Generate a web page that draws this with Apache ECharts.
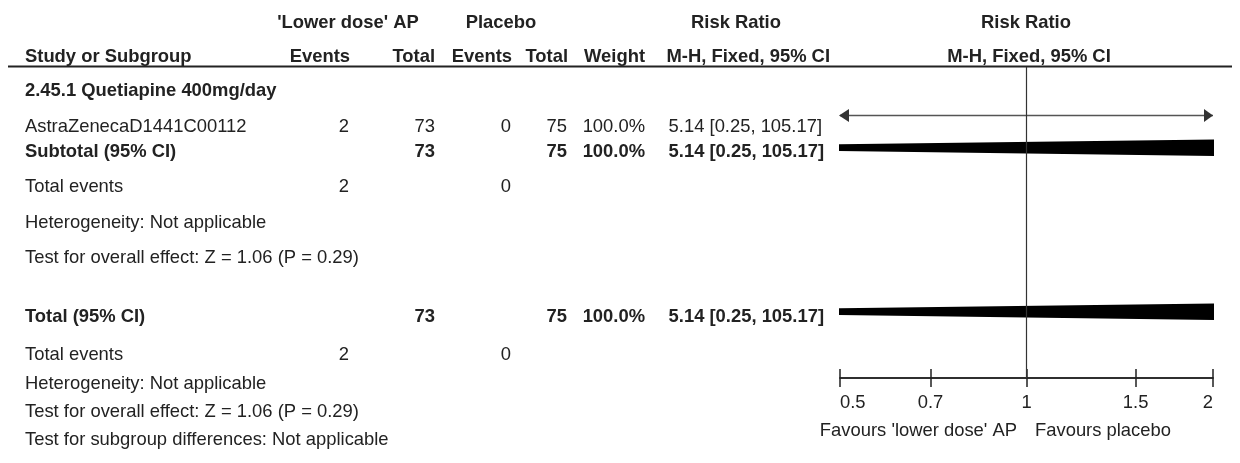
<!DOCTYPE html>
<html>
<head>
<meta charset="utf-8">
<script src="https://cdn.jsdelivr.net/npm/echarts@6/dist/echarts.min.js"></script>
<style>
  html, body { margin: 0; padding: 0; background: #fff; }
  #chart { width: 1240px; height: 463px; }
</style>
</head>
<body>
<div id="chart"></div>
<script>
// study level data
const studyNames = ['AstraZenecaD1441C00112'];
const apEvents = [2];
const apTotal = [73];
const placeboEvents = [0];
const placeboTotal = [75];
const studyWeight = ['100.0%'];
const studyRR = [5.14];
const studyLow = [0.25];
const studyHigh = [105.17];

// pooled rows (subtotal, total)
const pooledNames = ['Subtotal (95% CI)', 'Total (95% CI)'];
const pooledApTotal = [73, 73];
const pooledPlaceboTotal = [75, 75];
const pooledWeight = ['100.0%', '100.0%'];
const pooledRR = [5.14, 5.14];
const pooledLow = [0.25, 0.25];
const pooledHigh = [105.17, 105.17];
const totalEventsAp = [2, 2];
const totalEventsPlacebo = [0, 0];
const heterogeneity = ['Heterogeneity: Not applicable', 'Heterogeneity: Not applicable'];
const overallEffect = ['Test for overall effect: Z = 1.06 (P = 0.29)', 'Test for overall effect: Z = 1.06 (P = 0.29)'];
const subgroupTest = 'Test for subgroup differences: Not applicable';
const groupTitle = '2.45.1 Quetiapine 400mg/day';

const tickValues = [0.5, 0.7, 1, 1.5, 2];
const tickLabels = ['0.5', '0.7', '1', '1.5', '2'];

// layout: row positions (page px) and column edges
const rowY = {
  head1: 23, head2: 57, rule: 66.5, group: 90.5,
  study: [126.5], studyMark: [115.5],
  pooled: [151.5, 316.5], pooledMark: [147.7, 311.7],
  events: [186.5, 354.5], het: [223, 383.5], effect: [258, 411.5], subgroup: 439.5
};
const col = { name: 25, ev1: 350, tot1: 435, ev2: 511, tot2: 567, weight: 645, ci: 824 };
const FONT = '"Liberation Sans", Arial, Helvetica, sans-serif';
const SIZE = '18.4px ';
const TEXT = '#222';

const fmtCI = (m, l, h) => `${m.toFixed(2)} [${l.toFixed(2)}, ${h.toFixed(2)}]`;

function txt(x, y, text, align, bold) {
  return {
    type: 'text', x: x, y: y, silent: true,
    style: {
      text: String(text), align: align || 'left', verticalAlign: 'middle',
      font: (bold ? 'bold ' : '') + SIZE + FONT, fill: TEXT
    }
  };
}

const graphics = [];
// headers
graphics.push(txt(348, rowY.head1, "'Lower dose' AP", 'center', true));
graphics.push(txt(501, rowY.head1, 'Placebo', 'center', true));
graphics.push(txt(736, rowY.head1, 'Risk Ratio', 'center', true));
graphics.push(txt(1026, rowY.head1, 'Risk Ratio', 'center', true));
graphics.push(txt(col.name, rowY.head2, 'Study or Subgroup', 'left', true));
graphics.push(txt(col.ev1, rowY.head2, 'Events', 'right', true));
graphics.push(txt(col.tot1, rowY.head2, 'Total', 'right', true));
graphics.push(txt(col.ev2 + 1, rowY.head2, 'Events', 'right', true));
graphics.push(txt(col.tot2 + 1, rowY.head2, 'Total', 'right', true));
graphics.push(txt(col.weight, rowY.head2, 'Weight', 'right', true));
graphics.push(txt(830, rowY.head2, 'M-H, Fixed, 95% CI', 'right', true));
graphics.push(txt(1029, rowY.head2, 'M-H, Fixed, 95% CI', 'center', true));
graphics.push({
  type: 'line', silent: true,
  shape: { x1: 8, y1: rowY.rule, x2: 1232, y2: rowY.rule },
  style: { stroke: '#222', lineWidth: 2 }
});

graphics.push(txt(col.name, rowY.group, groupTitle, 'left', true));

// study rows
studyNames.forEach((n, i) => {
  const y = rowY.study[i];
  graphics.push(txt(col.name, y, n));
  graphics.push(txt(col.ev1 - 1, y, apEvents[i], 'right'));
  graphics.push(txt(col.tot1, y, apTotal[i], 'right'));
  graphics.push(txt(col.ev2, y, placeboEvents[i], 'right'));
  graphics.push(txt(col.tot2, y, placeboTotal[i], 'right'));
  graphics.push(txt(col.weight, y, studyWeight[i], 'right'));
  graphics.push(txt(col.ci - 2, y, fmtCI(studyRR[i], studyLow[i], studyHigh[i]), 'right'));
});

// pooled rows + footers
pooledNames.forEach((n, i) => {
  const y = rowY.pooled[i];
  graphics.push(txt(col.name, y, n, 'left', true));
  graphics.push(txt(col.tot1, y, pooledApTotal[i], 'right', true));
  graphics.push(txt(col.tot2, y, pooledPlaceboTotal[i], 'right', true));
  graphics.push(txt(col.weight, y, pooledWeight[i], 'right', true));
  graphics.push(txt(col.ci, y, fmtCI(pooledRR[i], pooledLow[i], pooledHigh[i]), 'right', true));

  graphics.push(txt(col.name, rowY.events[i], 'Total events'));
  graphics.push(txt(col.ev1 - 1, rowY.events[i], totalEventsAp[i], 'right'));
  graphics.push(txt(col.ev2, rowY.events[i], totalEventsPlacebo[i], 'right'));
  graphics.push(txt(col.name, rowY.het[i], heterogeneity[i]));
  graphics.push(txt(col.name, rowY.effect[i], overallEffect[i]));
});
graphics.push(txt(col.name, rowY.subgroup, subgroupTest));

// favours labels under the axis
graphics.push(txt(1017, 431, "Favours 'lower dose' AP", 'right'));
graphics.push(txt(1035, 431, 'Favours placebo', 'left'));

// clip a polygon between two vertical lines
function clipX(points, xMin, xMax) {
  let out = points;
  [[xMin, 1], [xMax, -1]].forEach(([edge, dir]) => {
    const src = out;
    out = [];
    for (let i = 0; i < src.length; i++) {
      const a = src[i], b = src[(i + 1) % src.length];
      const inA = (a[0] - edge) * dir >= 0;
      const inB = (b[0] - edge) * dir >= 0;
      if (inA) out.push(a);
      if (inA !== inB) {
        const t = (edge - a[0]) / (b[0] - a[0]);
        out.push([edge, a[1] + t * (b[1] - a[1])]);
      }
    }
  });
  return out;
}

const xMin = tickValues[0];
const xMax = tickValues[tickValues.length - 1];

function renderStudy(params, api) {
  const low = api.value(0), high = api.value(1), est = api.value(2), y = api.value(3);
  const left = api.coord([Math.max(low, xMin), y]);
  const right = api.coord([Math.min(high, xMax), y]);
  const children = [{
    type: 'line',
    shape: { x1: left[0], y1: left[1], x2: right[0], y2: right[1] },
    style: { stroke: '#555', lineWidth: 1.5 }
  }];
  const head = 9, half = 6.5;
  if (low < xMin) {
    children.push({ type: 'polygon', shape: { points: [[left[0] - 1, left[1]], [left[0] + head, left[1] - half], [left[0] + head, left[1] + half]] }, style: { fill: '#333' } });
  }
  if (high > xMax) {
    children.push({ type: 'polygon', shape: { points: [[right[0], right[1]], [right[0] - head, right[1] - half], [right[0] - head, right[1] + half]] }, style: { fill: '#333' } });
  }
  if (est >= xMin && est <= xMax) {
    const c = api.coord([est, y]);
    children.push({ type: 'rect', shape: { x: c[0] - 5, y: c[1] - 5, width: 10, height: 10 }, style: { fill: '#000' } });
  }
  return { type: 'group', children: children };
}

function renderDiamond(params, api) {
  const low = api.value(0), est = api.value(1), high = api.value(2), y = api.value(3);
  const h = 10.5;
  const pl = api.coord([low, y]), pe = api.coord([est, y]), ph = api.coord([high, y]);
  const cs = params.coordSys;
  const pts = clipX([[pl[0], pl[1]], [pe[0], pe[1] - h], [ph[0], ph[1]], [pe[0], pe[1] + h]], cs.x, cs.x + cs.width);
  return {
    type: 'polygon',
    shape: { points: pts },
    style: { fill: '#000', stroke: '#000', lineWidth: 2, lineJoin: 'miter' }
  };
}

const studyData = studyNames.map((n, i) => [studyLow[i], studyHigh[i], studyRR[i], rowY.studyMark[i]]);
const pooledData = pooledNames.map((n, i) => [pooledLow[i], pooledRR[i], pooledHigh[i], rowY.pooledMark[i]]);

const chart = echarts.init(document.getElementById('chart'));

chart.setOption({
  animation: false,
  backgroundColor: '#fff',
  textStyle: { fontFamily: FONT },
  grid: { left: 840, right: 27, top: 67, bottom: 85 },
  xAxis: [
    {
      type: 'log', min: xMin, max: xMax, position: 'bottom',
      axisLine: { show: true, lineStyle: { color: '#222', width: 1.5 } },
      axisTick: { show: true, inside: false, length: 9, customValues: tickValues, lineStyle: { color: '#222', width: 1.5 } },
      axisLabel: {
        show: true, customValues: tickValues, margin: 16,
        color: TEXT, fontSize: 18.4, fontFamily: FONT,
        alignMinLabel: 'left', alignMaxLabel: 'right',
        formatter: v => tickLabels[tickValues.findIndex(t => Math.abs(t - v) < 1e-6)] ?? String(v)
      },
      splitLine: { show: false }
    },
    {
      type: 'log', min: xMin, max: xMax, position: 'bottom', offset: 0,
      axisLine: { show: true, lineStyle: { color: '#222', width: 1.5 } },
      axisTick: { show: true, inside: true, length: 9, customValues: tickValues, lineStyle: { color: '#222', width: 1.5 } },
      axisLabel: { show: false },
      splitLine: { show: false }
    }
  ],
  yAxis: { type: 'value', min: 67, max: 378, inverse: true, show: false },
  graphic: graphics,
  series: [
    {
      type: 'custom',
      xAxisIndex: 0,
      renderItem: renderStudy,
      data: studyData,
      silent: true,
      markLine: {
        silent: true, symbol: 'none', label: { show: false },
        lineStyle: { color: '#333', width: 1.2, type: 'solid' },
        data: [{ xAxis: 1 }]
      }
    },
    {
      type: 'custom',
      xAxisIndex: 0,
      renderItem: renderDiamond,
      data: pooledData,
      silent: true
    }
  ]
});
</script>
</body>
</html>
